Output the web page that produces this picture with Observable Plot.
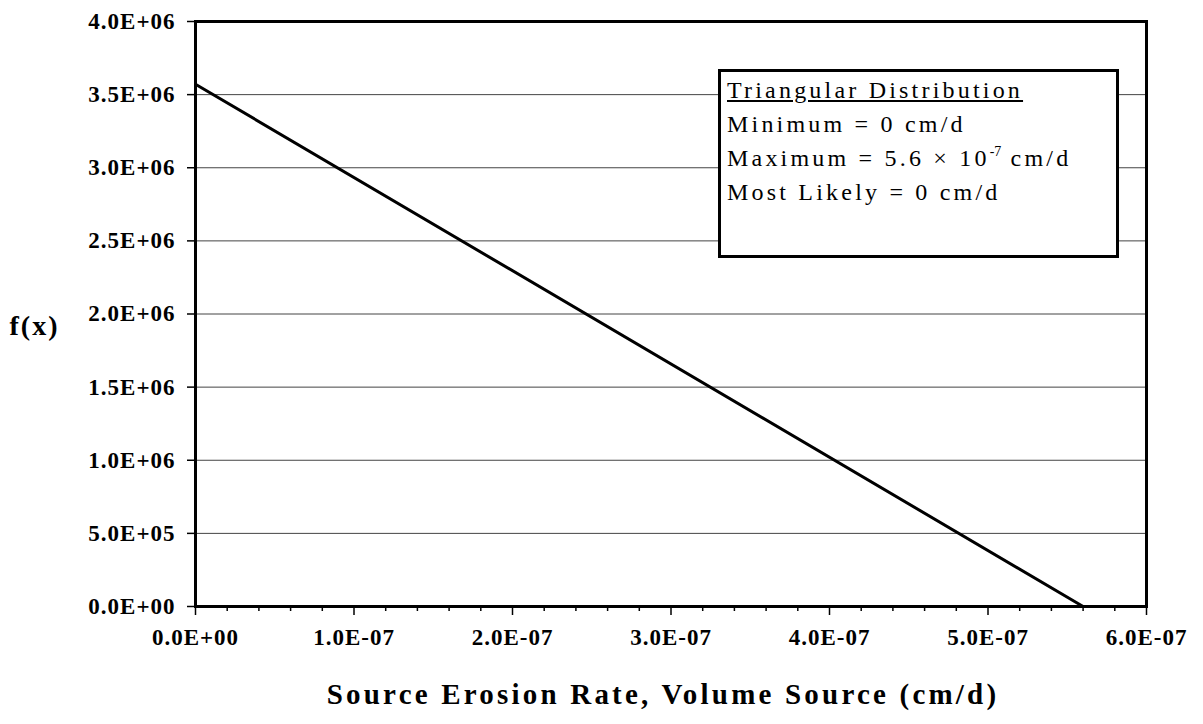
<!DOCTYPE html>
<html>
<head>
<meta charset="utf-8">
<script src="https://cdn.jsdelivr.net/npm/d3@7"></script>
<script src="https://cdn.jsdelivr.net/npm/@observablehq/plot@0.6"></script>
<style>
  html, body { margin: 0; padding: 0; background: #fff; }
  #wrap { position: relative; width: 1203px; height: 724px; font-family: "Liberation Serif", "Times New Roman", serif; }
  #wrap svg, #wrap svg text { font-family: "Liberation Serif", "Times New Roman", serif !important; }
  #wrap svg text { letter-spacing: 1px; }
  #wrap svg .xlabel text { letter-spacing: 3.2px; }
  #wrap svg .ylabel text { letter-spacing: 2px; }
  #legend {
    position: absolute; left: 718px; top: 69px; width: 389px; height: 182px;
    border: 3px solid #000; background: #fff; padding: 1px 0 0 6px; box-sizing: content-box;
    font-family: "Liberation Serif", "Times New Roman", serif; font-size: 24px; line-height: 34px;
    letter-spacing: 3.2px; color: #000;
  }
  #legend div { white-space: nowrap; }
  #legend sup { font-size: 14px; line-height: 0; vertical-align: 10px; letter-spacing: 0; }
</style>
</head>
<body>
<div id="wrap"></div>
<script>
// ---- data ----
const xValues = [0, 5.6e-7];          // source erosion rate (cm/d)
const fValues = [3.571e6, 0];         // f(x)
const yTicks = [0, 5e5, 1e6, 1.5e6, 2e6, 2.5e6, 3e6, 3.5e6, 4e6];
const yTickLabels = ["0.0E+00", "5.0E+05", "1.0E+06", "1.5E+06", "2.0E+06", "2.5E+06", "3.0E+06", "3.5E+06", "4.0E+06"];
const xTicks = [0, 1e-7, 2e-7, 3e-7, 4e-7, 5e-7, 6e-7];
const xTickLabels = ["0.0E+00", "1.0E-07", "2.0E-07", "3.0E-07", "4.0E-07", "5.0E-07", "6.0E-07"];
const xMinorTicks = [2e-8, 4e-8, 6e-8, 8e-8, 1.2e-7, 1.4e-7, 1.6e-7, 1.8e-7, 2.2e-7, 2.4e-7, 2.6e-7, 2.8e-7,
  3.2e-7, 3.4e-7, 3.6e-7, 3.8e-7, 4.2e-7, 4.4e-7, 4.6e-7, 4.8e-7, 5.2e-7, 5.4e-7, 5.6e-7, 5.8e-7];
const xLabel = "Source Erosion Rate, Volume Source (cm/d)";
const yLabel = "f(x)";
const legendTitle = "Triangular Distribution";
const legendLines = ["Minimum = 0 cm/d", "Maximum = 5.6 × 10<sup>-7</sup> cm/d", "Most Likely = 0 cm/d"];

const data = xValues.map((x, i) => ({x, y: fValues[i]}));
const serif = "'Liberation Serif', 'Times New Roman', serif";

const chart = Plot.plot({
  width: 1203,
  height: 724,
  marginLeft: 195,
  marginRight: 57,
  marginTop: 21,
  marginBottom: 118,
  style: {fontFamily: serif, background: "#fff", color: "#000"},
  x: {domain: [0, 6e-7]},
  y: {domain: [0, 4e6]},
  marks: [
    Plot.gridY(yTicks, {stroke: "#444", strokeOpacity: 1, strokeWidth: 1}),
    Plot.axisY(yTicks, {
      tickSize: 8, tickPadding: 12, fontSize: 23, fontWeight: "bold", strokeWidth: 1.5,
      tickFormat: (d) => yTickLabels[yTicks.indexOf(d)], label: null
    }),
    Plot.axisX(xMinorTicks, {tickSize: 5, strokeWidth: 1.5, tickFormat: null, text: null, label: null}),
    Plot.axisX(xTicks, {
      tickSize: 9, tickPadding: 13, fontSize: 23, fontWeight: "bold", strokeWidth: 1.5,
      tickFormat: (d) => xTickLabels[xTicks.indexOf(d)], label: null
    }),
    Plot.line(data, {x: "x", y: "y", stroke: "#000", strokeWidth: 3}),
    Plot.frame({stroke: "#000", strokeWidth: 3}),
    Plot.text([xLabel], {frameAnchor: "bottom", dx: -8, dy: 97, fontSize: 29, fontWeight: "bold", className: "xlabel", fill: "#000"}),
    Plot.text([yLabel], {frameAnchor: "left", textAnchor: "start", dx: -186, dy: 12, fontSize: 28, fontWeight: "bold", className: "ylabel", fill: "#000"})
  ]
});

const wrap = document.getElementById("wrap");
wrap.appendChild(chart);

const legend = document.createElement("div");
legend.id = "legend";
legend.innerHTML = `<div><u>${legendTitle}</u></div>` + legendLines.map(l => `<div>${l}</div>`).join("");
wrap.appendChild(legend);
</script>
</body>
</html>
